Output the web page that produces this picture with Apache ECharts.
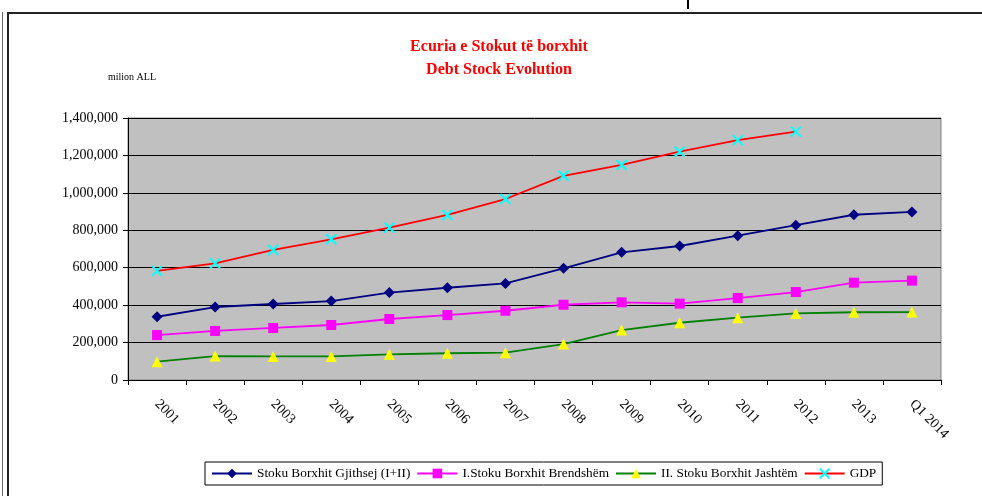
<!DOCTYPE html>
<html lang="sq">
<head>
<meta charset="utf-8" />
<script src="https://cdn.jsdelivr.net/npm/echarts@6/dist/echarts.min.js"></script>
<style>
  html, body { margin: 0; padding: 0; background: #fff; }
  #main { width: 982px; height: 496px; }
</style>
</head>
<body>
<div id="main"></div>
<script>
// kategorite (vitet)
var years = ['2001','2002','2003','2004','2005','2006','2007','2008','2009','2010','2011','2012','2013','Q1 2014'];
// Stoku Borxhit Gjithsej (I+II)
var totalDebt = [338000, 390000, 406000, 422000, 467000, 493000, 516000, 597000, 682000, 716000, 771000, 827000, 883000, 898000];
// I.Stoku Borxhit Brendshem
var domesticDebt = [240000, 262000, 278000, 294000, 326000, 347000, 370000, 402000, 415000, 408000, 438000, 470000, 520000, 531000];
// II. Stoku Borxhit Jashtem
var externalDebt = [98000, 128000, 126000, 126000, 137000, 143000, 146000, 192000, 267000, 306000, 333000, 356000, 362000, 363000];
// GDP (deri 2012)
var gdp = [583000, 623000, 695000, 752000, 814000, 882000, 967000, 1091000, 1149000, 1220000, 1282000, 1327000, null, null];

var serif = '"Liberation Serif", "DejaVu Serif", serif';

var chart = echarts.init(document.getElementById('main'));
var option = {
  animation: false,
  textStyle: { fontFamily: serif },
  title: {
    text: 'Ecuria e Stokut të borxhit\nDebt Stock Evolution',
    left: 494, top: 30, textAlign: 'center',
    textStyle: { color: '#ff0000', fontSize: 16, fontWeight: 'bold', fontFamily: serif, lineHeight: 23 }
  },
  graphic: [
    { type: 'rect', shape: { x: 8, y: 13, width: 990, height: 500 }, style: { fill: 'none', stroke: '#222', lineWidth: 2 } },
    { type: 'line', shape: { x1: 2.5, y1: 12, x2: 2.5, y2: 496 }, style: { stroke: '#666', lineWidth: 1 } },
    { type: 'line', shape: { x1: 688, y1: 0, x2: 688, y2: 9 }, style: { stroke: '#000', lineWidth: 2 } },
    { type: 'text', left: 108, top: 72, style: { text: 'milion ALL', fontSize: 10, fontFamily: serif, fill: '#000' } }
  ],
  legend: {
    bottom: 11, left: 205,
    padding: [5, 6, 5, 6],
    borderColor: '#000', borderWidth: 1,
    itemWidth: 40, itemHeight: 12, itemGap: 6,
    textStyle: { fontSize: 13.3, fontFamily: serif, color: '#000' },
    data: ['Stoku Borxhit Gjithsej (I+II)', 'I.Stoku Borxhit Brendshëm', 'II. Stoku Borxhit Jashtëm', 'GDP']
  },
  grid: {
    left: 128, right: 41, top: 118, bottom: 116,
    show: true, backgroundColor: '#c0c0c0', borderColor: '#808080', borderWidth: 1
  },
  xAxis: {
    type: 'category', data: years, boundaryGap: true,
    axisLine: { lineStyle: { color: '#000', width: 1 } },
    axisTick: { show: true, alignWithLabel: false, length: 5, lineStyle: { color: '#000' } },
    axisLabel: { rotate: -45, interval: 0, margin: 22, fontSize: 14, color: '#000', fontFamily: serif }
  },
  yAxis: {
    type: 'value', min: 0, max: 1400000, interval: 200000,
    axisLine: { show: true, lineStyle: { color: '#000', width: 1 } },
    axisTick: { show: true, length: 5, lineStyle: { color: '#000' } },
    axisLabel: {
      fontSize: 14, color: '#000', margin: 10, fontFamily: serif,
      formatter: function (v) { return v.toLocaleString('en-US'); }
    },
    splitLine: { lineStyle: { color: '#000', width: 1 } }
  },
  series: [
    {
      name: 'Stoku Borxhit Gjithsej (I+II)', type: 'line', data: totalDebt,
      symbol: 'diamond', symbolSize: 11,
      lineStyle: { color: '#000080', width: 1.8 },
      itemStyle: { color: '#000080' }
    },
    {
      name: 'I.Stoku Borxhit Brendshëm', type: 'line', data: domesticDebt,
      symbol: 'rect', symbolSize: 10,
      lineStyle: { color: '#ff00ff', width: 1.8 },
      itemStyle: { color: '#ff00ff' }
    },
    {
      name: 'II. Stoku Borxhit Jashtëm', type: 'line', data: externalDebt,
      symbol: 'triangle', symbolSize: 11,
      lineStyle: { color: '#008000', width: 1.8 },
      itemStyle: { color: '#ffff00' }
    },
    {
      name: 'GDP', type: 'line', data: gdp,
      symbol: 'path://M0,0L10,10M10,0L0,10', symbolSize: 10,
      lineStyle: { color: '#ff0000', width: 1.8 },
      itemStyle: { color: '#00ffff', borderColor: '#00ffff', borderWidth: 2 }
    }
  ]
};
chart.setOption(option);
</script>
</body>
</html>
